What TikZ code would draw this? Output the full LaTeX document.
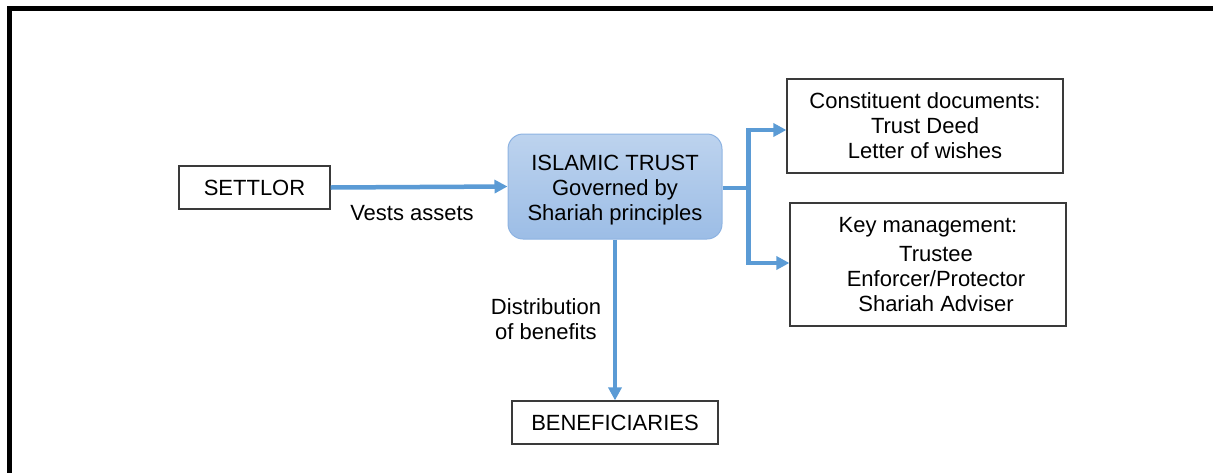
\documentclass[tikz,border=0pt]{standalone}
\usepackage{fontspec}
\setmainfont{Liberation Sans}
\usetikzlibrary{arrows.meta,calc}
\definecolor{flowblue}{HTML}{5B9BD5}
\definecolor{trusttop}{HTML}{BDD3EE}
\definecolor{trustbot}{HTML}{9CBDE6}
\definecolor{trustedge}{HTML}{8DB3E2}
\definecolor{boxedge}{HTML}{3A3A3A}
\tikzset{
  txt/.style={font=\fontsize{22}{25}\selectfont, align=center, inner sep=0pt},
  plainbox/.style={txt, draw=boxedge, line width=1.2pt},
  trustbox/.style={txt, draw=trustedge, line width=1pt, rounded corners=15pt,
    top color=trusttop, bottom color=trustbot},
  flow/.style={draw=flowblue, line width=4.5pt,
    -{Triangle[length=13pt,width=13pt]}},
  link/.style={draw=flowblue, line width=4.5pt}
}
\begin{document}
\begin{tikzpicture}[x=1pt,y=-1pt]
  \useasboundingbox (0,0) rectangle (1213,472);
  % frame
  \draw[line width=5pt] (9,474) -- (9,8.5) -- (1215,8.5);

  % nodes
  \node[plainbox, minimum width=151pt, minimum height=43pt] (settlor) at (254.5,187.5) {SETTLOR};
  \node[trustbox, minimum width=214pt, minimum height=105pt] (trust) at (615,186.5)
    {\rule{0pt}{23pt}ISLAMIC TRUST\\Governed by\\Shariah principles};
  \node[plainbox, minimum width=276pt, minimum height=94pt] (docs) at (925,126)
    {Constituent documents:\\Trust Deed\\Letter of wishes};
  \node[plainbox, minimum width=276pt, minimum height=123pt] (mgmt) at (928,264.5)
    {Key management:\\[4pt]\hspace*{16pt}Trustee\\\hspace*{16pt}Enforcer/Protector\\\hspace*{16pt}Shariah Adviser};
  \node[plainbox, minimum width=206pt, minimum height=43pt] (benef) at (615,422.5) {BENEFICIARIES};

  % labels
  \node[txt] (vests) at (412,213) {Vests assets};
  \node[txt] (distrib) at (546,319) {Distribution\\of benefits};

  % connectors
  \draw[flow] (settlor.east) -- (trust.west);
  \draw[flow] (trust.south) -- (benef.north);
  \coordinate (fork) at ($(trust.east)+(26,1.5)$);
  \draw[link] ([yshift=-1.5pt]trust.east) -- (fork);
  \draw[flow] (fork) |- ([yshift=-4pt]docs.west);
  \draw[flow] (fork) |- ([yshift=1.5pt]mgmt.west);
\end{tikzpicture}
\end{document}
